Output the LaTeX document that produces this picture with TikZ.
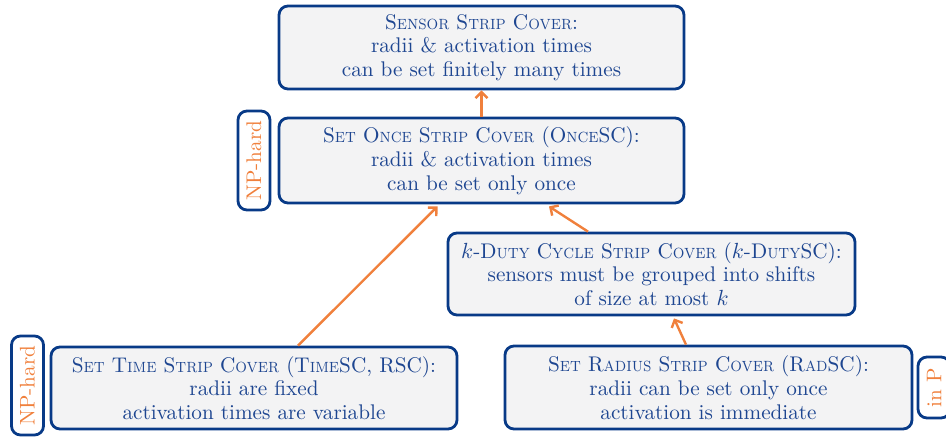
\documentclass[tikz,border=0pt]{standalone}
\usepackage{graphicx}
\usetikzlibrary{arrows.meta}
\definecolor{bordblue}{RGB}{8,58,135}
\definecolor{txtblue}{RGB}{30,70,145}
\definecolor{boxfill}{RGB}{243,243,244}
\definecolor{orng}{RGB}{240,128,60}
\newcommand\fsc[1]{\scalebox{0.9}[1]{\fontsize{7.4}{8}\selectfont\MakeUppercase{#1}}}
\tikzset{
  probbox/.style={draw=bordblue, line width=1.4pt, fill=boxfill, rounded corners=4.5pt,
    text=txtblue, align=center, inner sep=0pt, minimum width=#1,
    font=\fontsize{10.6}{11.9}\selectfont},
  probbox/.default=202.5pt,
  tagbox/.style={draw=bordblue, line width=1.4pt, rounded corners=4.5pt, text=orng,
    rotate=90, inner sep=0pt, minimum height=16pt, font=\fontsize{10.6}{11.9}\selectfont},
  redarrow/.style={draw=orng, line width=1.2pt, -{Straight Barb[length=3pt,width=6pt]}}
}
\begin{document}
\begin{tikzpicture}[x=0.5pt,y=-0.5pt]
\useasboundingbox (0,0) rectangle (946,436);
\node[probbox, minimum height=41.5pt] (top) at (481.5,47.5)
  {S\fsc{ensor} S\fsc{trip} C\fsc{over}:\\ radii \& activation times\\ can be set finitely many times};
\node[probbox, minimum height=42.5pt] (once) at (481.5,160.5)
  {S\fsc{et} O\fsc{nce} S\fsc{trip} C\fsc{over} (O\fsc{nce}SC):\\ radii \& activation times\\ can be set only once};
\node[probbox=203.5pt, minimum height=41pt] (duty) at (651.5,274)
  {$k$-D\fsc{uty} C\fsc{ycle} S\fsc{trip} C\fsc{over} ($k$-D\fsc{uty}SC):\\ sensors must be grouped into shifts\\ of size at most $k$};
\node[probbox=203pt, minimum height=41pt] (time) at (254,388)
  {S\fsc{et} T\fsc{ime} S\fsc{trip} C\fsc{over} (T\fsc{ime}SC, RSC):\\ radii are fixed\\ activation times are variable};
\node[probbox=203.5pt, minimum height=41.5pt] (rad) at (708.5,387.5)
  {S\fsc{et} R\fsc{adius} S\fsc{trip} C\fsc{over} (R\fsc{ad}SC):\\ radii can be set only once\\ activation is immediate};
\node[tagbox, minimum width=49.5pt] (np1) at (254,160.5) {NP-hard};
\node[tagbox, minimum width=49.5pt] (np2) at (27.5,385.5) {NP-hard};
\node[tagbox, minimum width=30.5pt] (inp) at (934,387.5) {in P};
\draw[redarrow] (once.north) -- (top.south);
\draw[redarrow] ([xshift=22pt]time.north) -- ([xshift=-22pt,yshift=-1pt]once.south);
\draw[redarrow] ([xshift=-31.75pt]duty.north) -- ([xshift=33.75pt,yshift=-1pt]once.south);
\draw[redarrow] ([xshift=-11.25pt]rad.north) -- ([xshift=11.25pt,yshift=-1pt]duty.south);
\end{tikzpicture}
\end{document}
